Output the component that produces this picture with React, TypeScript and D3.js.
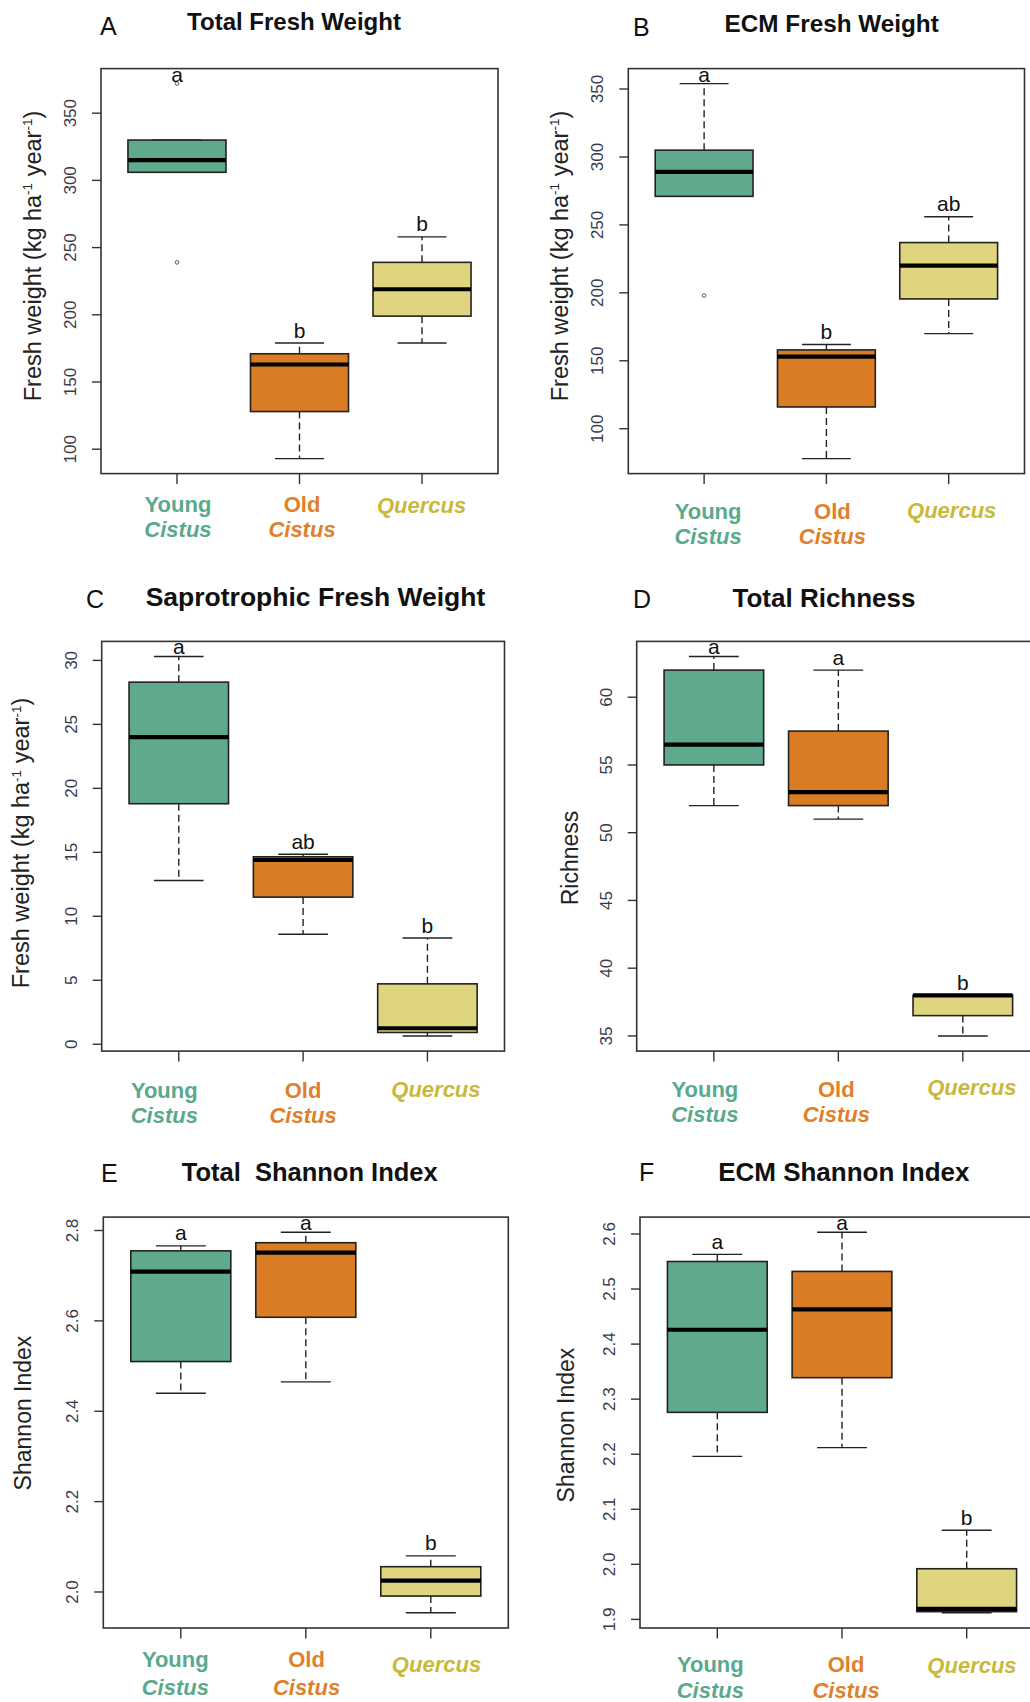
import React from "react";
import * as d3 from "d3";

// ---------- categories & colours ----------
const groups = ["Young Cistus", "Old Cistus", "Quercus"];
const fillColors = ["#5fa98d", "#d97c24", "#e0d57f"];
const labelColors = ["#5aa98c", "#e07f2c", "#c8b93a"];

// ---------- A: Total Fresh Weight ----------
const aLow = [306, 93, 179];
const aQ1 = [306, 128, 199];
const aMed = [315, 163, 219];
const aQ3 = [330, 171, 239];
const aHigh = [330, 179, 258];
const aOut = [[372, 239], [], []];
const aSig = ["a", "b", "b"];
const aTicks = [100, 150, 200, 250, 300, 350];

// ---------- B: ECM Fresh Weight ----------
const bLow = [271, 78, 170];
const bQ1 = [271, 116, 195.5];
const bMed = [289, 153, 220];
const bQ3 = [305, 158, 237];
const bHigh = [354, 162, 256];
const bOut = [[198], [], []];
const bSig = ["a", "b", "ab"];
const bTicks = [100, 150, 200, 250, 300, 350];

// ---------- C: Saprotrophic Fresh Weight ----------
const cLow = [12.8, 8.6, 0.65];
const cQ1 = [18.8, 11.5, 0.92];
const cMed = [24.0, 14.4, 1.25];
const cQ3 = [28.3, 14.65, 4.72];
const cHigh = [30.3, 14.85, 8.3];
const cOut = [[], [], []];
const cSig = ["a", "ab", "b"];
const cTicks = [0, 5, 10, 15, 20, 25, 30];

// ---------- D: Total Richness ----------
const dLow = [52, 51, 35];
const dQ1 = [55, 52, 36.5];
const dMed = [56.5, 53, 38];
const dQ3 = [62, 57.5, 38];
const dHigh = [63, 62, 38];
const dOut = [[], [], []];
const dSig = ["a", "a", "b"];
const dTicks = [35, 40, 45, 50, 55, 60];

// ---------- E: Total Shannon Index ----------
const eLow = [2.44, 2.465, 1.954];
const eQ1 = [2.51, 2.608, 1.991];
const eMed = [2.709, 2.751, 2.025];
const eQ3 = [2.755, 2.773, 2.056];
const eHigh = [2.766, 2.796, 2.08];
const eOut = [[], [], []];
const eSig = ["a", "a", "b"];
const eTicks = [2.0, 2.2, 2.4, 2.6, 2.8];

// ---------- F: ECM Shannon Index ----------
const fLow = [2.196, 2.212, 1.912];
const fQ1 = [2.276, 2.339, 1.914];
const fMed = [2.426, 2.463, 1.919];
const fQ3 = [2.55, 2.532, 1.992];
const fHigh = [2.563, 2.603, 2.062];
const fOut = [[], [], []];
const fSig = ["a", "a", "b"];
const fTicks = [1.9, 2.0, 2.1, 2.2, 2.3, 2.4, 2.5, 2.6];

const FONT = "'Liberation Sans', Arial, Helvetica, sans-serif";

type Layout = {
  L: number; T: number; R: number; B: number;
  titleX: number; titleY: number; titleSize: number;
  tagX: number; tagY: number;
  ylabX: number; ylabY: number; ylabSize: number;
  xlY: number; xlQ: number; gap: number;
  xdx: number[];
};

type Panel = {
  tag: string;
  title: string;
  ylab: "fresh" | string;
  low: number[]; q1: number[]; med: number[]; q3: number[]; high: number[];
  out: number[][]; sig: string[]; ticks: number[]; fmt: (v: number) => string;
  lay: Layout;
};

const intFmt = d3.format("d");
const oneFmt = d3.format(".1f");

const panels: Panel[] = [
  {
    tag: "A", title: "Total Fresh Weight", ylab: "fresh",
    low: aLow, q1: aQ1, med: aMed, q3: aQ3, high: aHigh, out: aOut, sig: aSig, ticks: aTicks, fmt: intFmt,
    lay: { L: 101, T: 68.6, R: 498, B: 473.6, titleX: 294, titleY: 30.4, titleSize: 24, tagX: 100, tagY: 35,
      ylabX: 40.8, ylabY: 256, ylabSize: 23.5, xlY: 38, xlQ: 39, gap: 25, xdx: [1, 2.5, -0.5] },
  },
  {
    tag: "B", title: "ECM Fresh Weight", ylab: "fresh",
    low: bLow, q1: bQ1, med: bMed, q3: bQ3, high: bHigh, out: bOut, sig: bSig, ticks: bTicks, fmt: intFmt,
    lay: { L: 628.3, T: 68.6, R: 1024.5, B: 473.6, titleX: 831.7, titleY: 31.5, titleSize: 24.3, tagX: 633, tagY: 36,
      ylabX: 567.5, ylabY: 256, ylabSize: 23.5, xlY: 45, xlQ: 44.5, gap: 25, xdx: [4, 6, 3] },
  },
  {
    tag: "C", title: "Saprotrophic Fresh Weight", ylab: "fresh",
    low: cLow, q1: cQ1, med: cMed, q3: cQ3, high: cHigh, out: cOut, sig: cSig, ticks: cTicks, fmt: intFmt,
    lay: { L: 101.7, T: 641.4, R: 504.5, B: 1051.1, titleX: 315.5, titleY: 605.7, titleSize: 26.5, tagX: 86, tagY: 607.5,
      ylabX: 29, ylabY: 843, ylabSize: 23.5, xlY: 46.5, xlQ: 45.7, gap: 25, xdx: [-14.5, 0, 8.5] },
  },
  {
    tag: "D", title: "Total Richness", ylab: "Richness",
    low: dLow, q1: dQ1, med: dMed, q3: dQ3, high: dHigh, out: dOut, sig: dSig, ticks: dTicks, fmt: intFmt,
    lay: { L: 636.7, T: 641.4, R: 1040, B: 1051.1, titleX: 824, titleY: 606.5, titleSize: 26, tagX: 633, tagY: 608,
      ylabX: 577.5, ylabY: 858, ylabSize: 23, xlY: 46, xlQ: 44, gap: 25, xdx: [-9, -2, 9] },
  },
  {
    tag: "E", title: "Total\u00A0 Shannon Index", ylab: "Shannon Index",
    low: eLow, q1: eQ1, med: eMed, q3: eQ3, high: eHigh, out: eOut, sig: eSig, ticks: eTicks, fmt: oneFmt,
    lay: { L: 103.3, T: 1217.1, R: 508.3, B: 1628, titleX: 309.7, titleY: 1181, titleSize: 25.5, tagX: 101, tagY: 1181.5,
      ylabX: 30.7, ylabY: 1413, ylabSize: 23, xlY: 38.5, xlQ: 43.7, gap: 28.5, xdx: [-5.5, 0.7, 5.7] },
  },
  {
    tag: "F", title: "ECM Shannon Index", ylab: "Shannon Index",
    low: fLow, q1: fQ1, med: fMed, q3: fQ3, high: fHigh, out: fOut, sig: fSig, ticks: fTicks, fmt: oneFmt,
    lay: { L: 640, T: 1217.1, R: 1044, B: 1628, titleX: 843.8, titleY: 1181, titleSize: 26, tagX: 639, tagY: 1181,
      ylabX: 574.3, ylabY: 1425, ylabSize: 23, xlY: 44, xlQ: 45, gap: 26, xdx: [-7, 4, 5.3] },
  },
];

function PanelView({ p, idx }: { p: Panel; idx: number }) {
  const { L, T, R, B } = p.lay;
  const x = d3.scaleLinear().domain([0.38, 3.62]).range([L, R]);
  const all = [...p.low, ...p.high, ...p.out.flat()];
  const mn = d3.min(all) as number;
  const mx = d3.max(all) as number;
  const pad = (mx - mn) * 0.04;
  const y = d3.scaleLinear().domain([mn - pad, mx + pad]).range([B, T]);
  const halfBox = x(0.4) - x(0);
  const halfCap = x(0.2) - x(0);
  const clipId = `clip-${idx}`;
  const lineCol = "#222";

  const ylab =
    p.ylab === "fresh" ? (
      <text
        transform={`translate(${p.lay.ylabX},${p.lay.ylabY}) rotate(-90)`}
        textAnchor="middle"
        fontFamily={FONT}
        fontSize={p.lay.ylabSize}
        fill="#222"
      >
        Fresh weight (kg ha
        <tspan fontSize={13.5} dy={-8.5}>-1</tspan>
        <tspan dy={8.5}> year</tspan>
        <tspan fontSize={13.5} dy={-8.5}>-1</tspan>
        <tspan dy={8.5}>)</tspan>
      </text>
    ) : (
      <text
        transform={`translate(${p.lay.ylabX},${p.lay.ylabY}) rotate(-90)`}
        textAnchor="middle"
        fontFamily={FONT}
        fontSize={p.lay.ylabSize}
        fill="#222"
      >
        {p.ylab}
      </text>
    );

  return (
    <g>
      <defs>
        <clipPath id={clipId}>
          <rect x={L} y={T} width={R - L} height={B - T} />
        </clipPath>
      </defs>
      {/* tag + title */}
      <text x={p.lay.tagX} y={p.lay.tagY} fontFamily={FONT} fontSize={25} fill="#111">
        {p.tag}
      </text>
      <text
        x={p.lay.titleX}
        y={p.lay.titleY}
        textAnchor="middle"
        fontFamily={FONT}
        fontSize={p.lay.titleSize}
        fontWeight="bold"
        fill="#111"
      >
        {p.title}
      </text>
      {ylab}
      {/* y axis ticks */}
      {p.ticks.map((t) => (
        <g key={t}>
          <line x1={L - 9} x2={L} y1={y(t)} y2={y(t)} stroke="#333" strokeWidth={1.4} />
          <text
            transform={`translate(${L - 25},${y(t)}) rotate(-90)`}
            textAnchor="middle"
            fontFamily={FONT}
            fontSize={17}
            fill="#3a3a4a"
          >
            {p.fmt(t)}
          </text>
        </g>
      ))}
      {/* x ticks */}
      {groups.map((g, i) => (
        <line key={g} x1={x(i + 1)} x2={x(i + 1)} y1={B} y2={B + 10.5} stroke="#333" strokeWidth={1.4} />
      ))}
      {/* boxes */}
      <g clipPath={`url(#${clipId})`}>
        {groups.map((g, i) => {
          const cx = x(i + 1);
          return (
            <g key={g}>
              <line x1={cx} x2={cx} y1={y(p.q3[i])} y2={y(p.high[i])} stroke={lineCol} strokeWidth={1.4} strokeDasharray="7,4" />
              <line x1={cx} x2={cx} y1={y(p.q1[i])} y2={y(p.low[i])} stroke={lineCol} strokeWidth={1.4} strokeDasharray="7,4" />
              <line x1={cx - halfCap} x2={cx + halfCap} y1={y(p.high[i])} y2={y(p.high[i])} stroke={lineCol} strokeWidth={1.4} />
              <line x1={cx - halfCap} x2={cx + halfCap} y1={y(p.low[i])} y2={y(p.low[i])} stroke={lineCol} strokeWidth={1.4} />
              <rect
                x={cx - halfBox}
                y={y(p.q3[i])}
                width={2 * halfBox}
                height={y(p.q1[i]) - y(p.q3[i])}
                fill={fillColors[i]}
                stroke={lineCol}
                strokeWidth={1.6}
              />
              <line x1={cx - halfBox} x2={cx + halfBox} y1={y(p.med[i])} y2={y(p.med[i])} stroke="#000" strokeWidth={4.2} />
              {p.out[i].map((o, k) => (
                <circle key={k} cx={cx} cy={y(o)} r={1.8} fill="none" stroke="#555" strokeWidth={1} />
              ))}
            </g>
          );
        })}
        {groups.map((g, i) => {
          const top = Math.max(p.high[i], ...(p.out[i].length ? p.out[i] : [p.high[i]]));
          const by = Math.max(y(top) - 5.5, T + 13);
          return (
            <text key={g} x={x(i + 1)} y={by} textAnchor="middle" fontFamily={FONT} fontSize={21} fill="#111">
              {p.sig[i]}
            </text>
          );
        })}
      </g>
      {/* frame */}
      <rect x={L} y={T} width={R - L} height={B - T} fill="none" stroke="#333" strokeWidth={1.6} />
      {/* x labels */}
      {groups.map((g, i) => {
        const cx = x(i + 1) + p.lay.xdx[i];
        const col = labelColors[i];
        if (i === 2) {
          return (
            <text key={g} x={cx} y={B + p.lay.xlQ} textAnchor="middle" fontFamily={FONT} fontSize={22}
              fontWeight="bold" fontStyle="italic" fill={col}>
              Quercus
            </text>
          );
        }
        const [w1, w2] = g.split(" ");
        return (
          <g key={g}>
            <text x={cx} y={B + p.lay.xlY} textAnchor="middle" fontFamily={FONT} fontSize={22} fontWeight="bold" fill={col}>
              {w1}
            </text>
            <text x={cx} y={B + p.lay.xlY + p.lay.gap} textAnchor="middle" fontFamily={FONT} fontSize={22}
              fontWeight="bold" fontStyle="italic" fill={col}>
              {w2}
            </text>
          </g>
        );
      })}
    </g>
  );
}

export default function App() {
  return (
    <svg
      width={1030}
      height={1702}
      viewBox="0 0 1030 1702"
      style={{ position: "absolute", left: 0, top: 0, background: "#fff" }}
    >
      <rect x={0} y={0} width={1030} height={1702} fill="#fff" />
      {panels.map((p, i) => (
        <PanelView key={p.tag} p={p} idx={i} />
      ))}
    </svg>
  );
}
